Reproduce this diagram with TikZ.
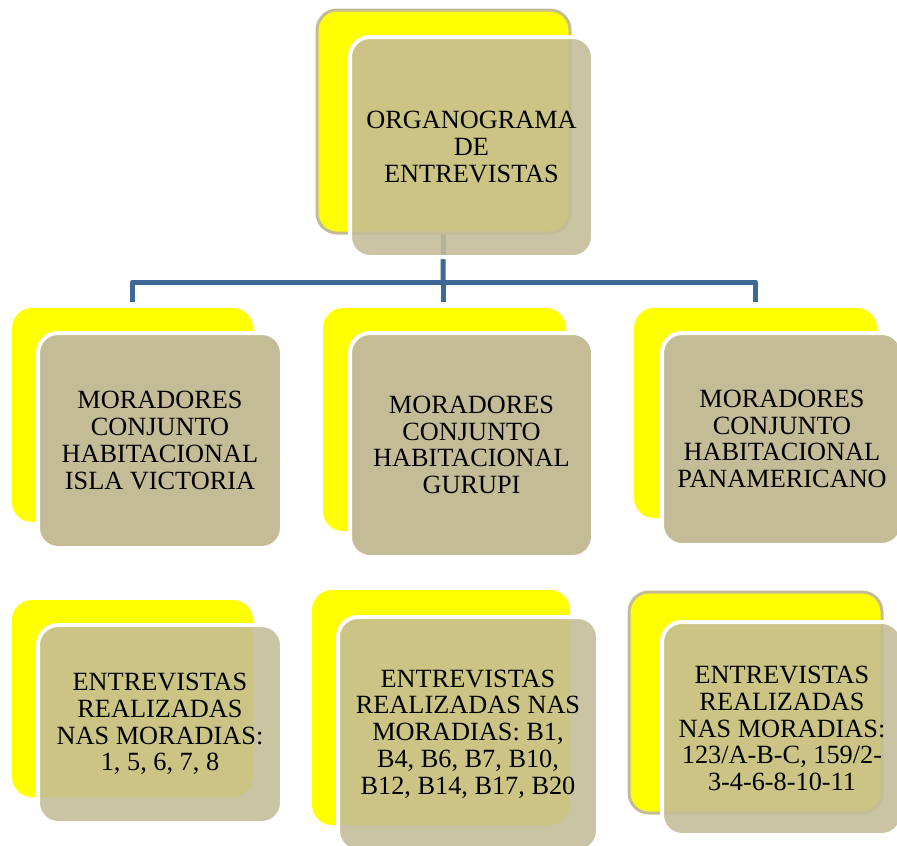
\documentclass[tikz,border=0pt]{standalone}
\usepackage{fontspec}
\setmainfont{Liberation Serif}
\definecolor{tanbox}{RGB}{196,188,151}
\definecolor{ylw}{RGB}{255,255,0}
\definecolor{conn}{RGB}{62,104,150}
\pgfdeclarelayer{bg}
\pgfsetlayers{bg,main}
\begin{document}
\begin{tikzpicture}[x=1pt,y=-1pt,
  back/.style={fill=ylw, draw=none, rounded corners=20pt, inner sep=0pt, outer sep=0pt},
  backedge/.style={draw=tanbox, line width=3pt},
  front/.style={fill=tanbox, draw=white, line width=4pt, rounded corners=20pt, inner sep=0pt, outer sep=0pt, align=center, font=\fontsize{26.3}{26.8}\selectfont, text=black},
  glass/.style={fill opacity=0.88, text opacity=1, draw opacity=1},
  link/.style={draw=conn, line width=5pt, line join=round}]
\useasboundingbox (0,0) rectangle (897,846);
\clip (0,0) rectangle (897,846);

% top
\node[back, backedge, minimum width=253pt, minimum height=223pt] (t0y) at (443.5,121.5) {};
\node[front, glass, minimum width=243pt, minimum height=220pt] (t0) at (471.5,147) {ORGANOGRAMA\\DE\\ENTREVISTAS};

% middle row
\node[back, minimum width=241pt, minimum height=214pt] (m1y) at (132.5,415) {};
\node[front, minimum width=244pt, minimum height=215pt] (m1) at (160,440.5) {MORADORES\\CONJUNTO\\HABITACIONAL\\ISLA VICTORIA};

\node[back, minimum width=243pt, minimum height=223pt] (m2y) at (444.5,419.5) {};
\node[front, minimum width=243pt, minimum height=224pt] (m2) at (471.5,445) {MORADORES\\CONJUNTO\\HABITACIONAL\\GURUPI};

\node[back, minimum width=243pt, minimum height=210pt] (m3y) at (755.5,413) {};
\node[front, minimum width=240pt, minimum height=212pt] (m3) at (782,439) {MORADORES\\CONJUNTO\\HABITACIONAL\\PANAMERICANO};

% bottom row
\node[back, minimum width=241pt, minimum height=197pt] (b1y) at (132.5,698.5) {};
\node[front, glass, minimum width=244pt, minimum height=198pt] (b1) at (160,724) {ENTREVISTAS\\REALIZADAS\\NAS MORADIAS:\\1, 5, 6, 7, 8};

\node[back, minimum width=258pt, minimum height=235pt] (b2y) at (441,707.5) {};
\node[front, glass, minimum width=260pt, minimum height=234pt] (b2) at (468,734) {ENTREVISTAS\\REALIZADAS NAS\\MORADIAS: B1,\\B4, B6, B7, B10,\\B12, B14, B17, B20};

\node[back, backedge, minimum width=253pt, minimum height=221pt] (b3y) at (755.5,702.5) {};
\node[front, glass, minimum width=240pt, minimum height=213pt] (b3) at (782,728.5) {ENTREVISTAS\\REALIZADAS\\NAS MORADIAS:\\123/A-B-C, 159/2-\\3-4-6-8-10-11};

% connectors
\begin{pgfonlayer}{bg}
\coordinate (bus) at (443,282);
\draw[link] (t0y.south) -- (bus);
\draw[link, shorten >=6pt] (bus) -| (m1y.north);
\draw[link, shorten >=6pt] (bus) -- (bus |- m2y.north);
\draw[link, shorten >=6pt] (bus) -| (m3y.north);
\end{pgfonlayer}
\end{tikzpicture}
\end{document}
